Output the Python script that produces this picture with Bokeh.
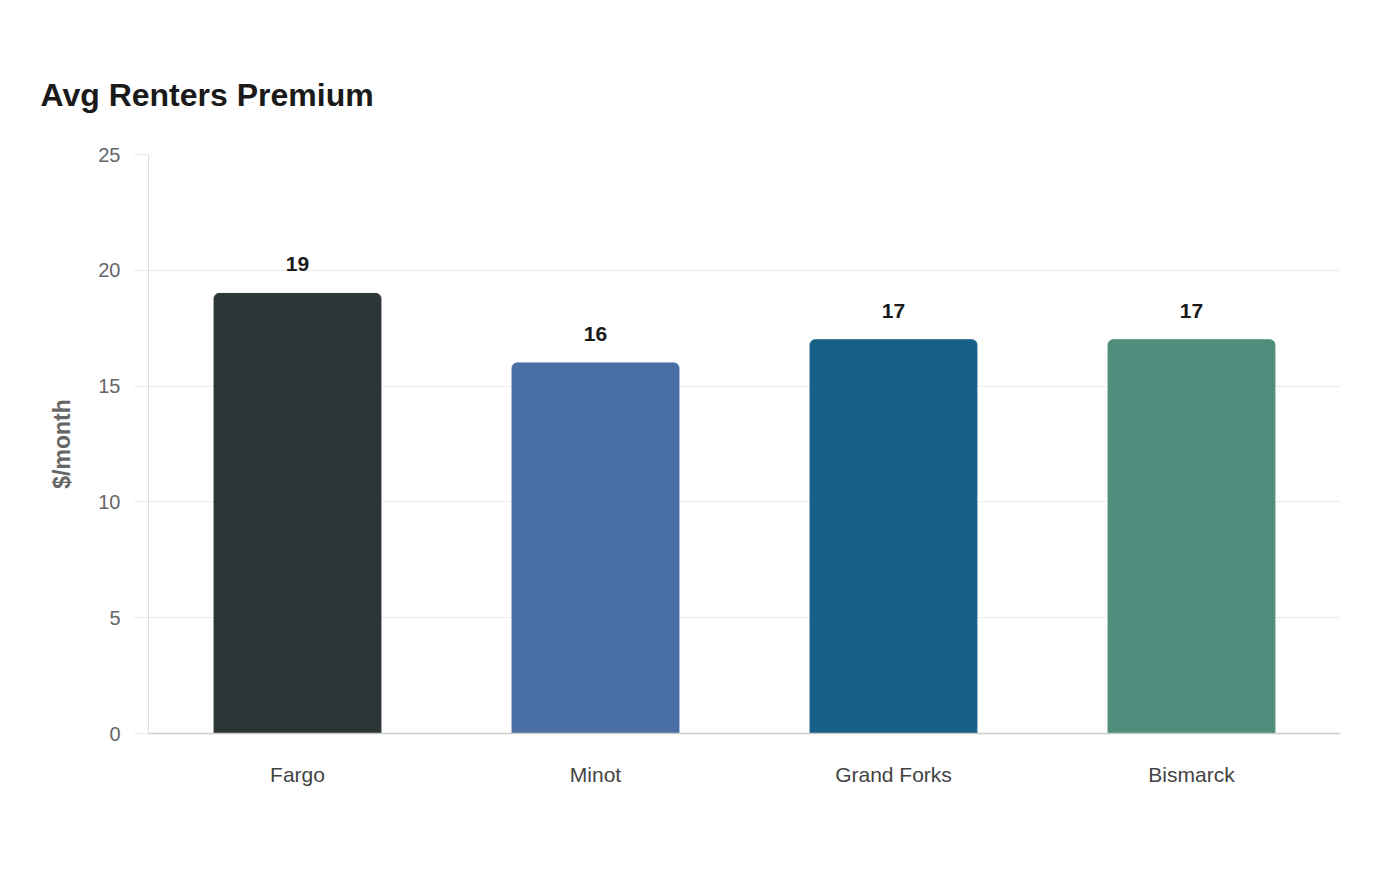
from bokeh.plotting import figure
from bokeh.models import ColumnDataSource, FactorRange, Range1d, FixedTicker
from bokeh.embed import file_html
from bokeh.resources import INLINE
from bokeh.core.properties import value

cities = ["Fargo", "Minot", "Grand Forks", "Bismarck"]
premiums = [19, 16, 17, 17]
colors = ["#2d3537", "#4a6fa5", "#176087", "#4f8d7c"]
y_ticks = [0, 5, 10, 15, 20, 25]

src = ColumnDataSource(dict(city=cities, v=premiums, color=colors,
                            label=[str(v) for v in premiums]))

p = figure(width=1400, height=880, x_range=FactorRange(*cities, range_padding=0),
           y_range=Range1d(0, 25), output_backend="svg", toolbar_location=None,
           min_border_left=148, min_border_right=60, min_border_top=154,
           min_border_bottom=147, title="Avg Renters Premium")
p.outline_line_color = None
p.background_fill_color = "white"
p.border_fill_color = "white"

p.title.text_font = "Liberation Sans"
p.title.text_font_size = "32px"
p.title.text_font_style = "bold"
p.title.text_color = "#1a1a1a"
p.title.align = "left"
p.title.offset = -108
p.title.standoff = 84

p.vbar(x="city", top="v", width=0.56, color="color", source=src,
       border_radius=(5, 5, 0, 0))
p.text(x="city", y="v", text="label", source=src, text_align="center",
       text_baseline="bottom", y_offset=-22, text_font=value("Liberation Sans"),
       text_font_size="21px", text_font_style="bold", text_color="#1a1a1a")

p.xgrid.grid_line_color = None
p.ygrid.grid_line_color = "#ebebeb"
p.ygrid.grid_line_width = 1

ya = p.yaxis[0]
ya.ticker = FixedTicker(ticks=y_ticks)
ya.axis_line_color = "#dddddd"
ya.major_tick_line_color = "#ebebeb"
ya.major_tick_out = 15
ya.major_tick_in = 0
ya.minor_tick_line_color = None
ya.major_label_standoff = 13
ya.major_label_text_font = "Liberation Sans"
ya.major_label_text_font_size = "20px"
ya.major_label_text_color = "#666666"
ya.axis_label = "$/month"
ya.axis_label_text_font = "Liberation Sans"
ya.axis_label_text_font_size = "23px"
ya.axis_label_text_font_style = "bold"
ya.axis_label_text_color = "#666666"
ya.axis_label_standoff = 20

xa = p.xaxis[0]
xa.axis_line_color = "#cccccc"
xa.axis_line_width = 1.5
xa.major_tick_line_color = None
xa.major_tick_out = 0
xa.major_label_standoff = 29
xa.major_label_text_font = "Liberation Sans"
xa.major_label_text_font_size = "21px"
xa.major_label_text_color = "#444444"

open("out.html", "w").write(file_html(p, INLINE))
